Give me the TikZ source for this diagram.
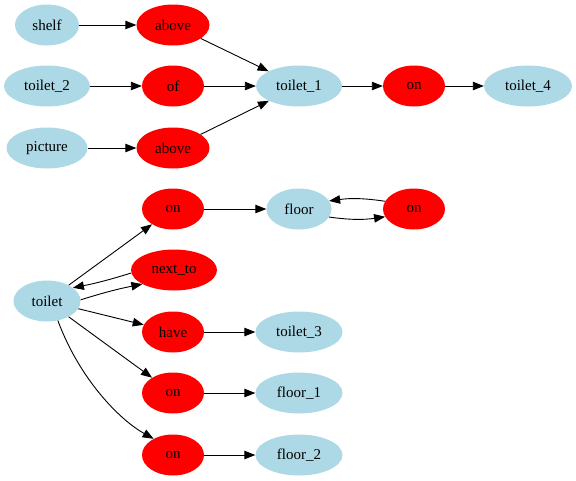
\documentclass[tikz,border=0pt]{standalone}
\usepackage{fontspec}
\setmainfont{Liberation Serif}
\usetikzlibrary{shapes.geometric,arrows.meta}
\definecolor{entity}{HTML}{ADD8E6}
\definecolor{relation}{HTML}{FF0000}
\tikzset{
  base/.style={ellipse, inner sep=0pt, minimum height=41pt,
    font=\fontsize{15}{18}\selectfont},
  ent/.style={base, fill=entity},
  rel/.style={base, fill=relation},
  link/.style={-{Triangle[length=11pt,width=8.5pt]}, line width=0.9pt},
}
\begin{document}
\begin{tikzpicture}[x=1pt,y=-1pt]
\useasboundingbox (0,0) rectangle (576,480);
% upper cluster
\node[ent, minimum width=64pt] (shelf) at (47,25) {shelf};
\node[rel, minimum width=73pt] (above1) at (173,25) {above};
\node[ent, minimum width=86pt] (toilet2) at (47,86) {toilet\_2};
\node[rel, minimum width=62pt] (of) at (173,86) {of};
\node[ent, minimum width=81pt] (picture) at (47,148) {picture};
\node[rel, minimum width=73pt] (above2) at (173,148) {above};
\node[ent, minimum width=86pt] (toilet1) at (299,86) {toilet\_1};
\node[rel, minimum width=62pt] (on1) at (414,86) {on};
\node[ent, minimum width=88pt] (toilet4) at (528,86) {toilet\_4};
% lower cluster
\node[rel, minimum width=62pt] (on2) at (173,209) {on};
\node[ent, minimum width=65pt] (floor) at (299,209) {floor};
\node[rel, minimum width=62pt] (on3) at (414,209) {on};
\node[ent, minimum width=67pt] (toilet) at (47,301) {toilet};
\node[rel, minimum width=86pt] (nextto) at (174,270) {next\_to};
\node[rel, minimum width=62pt] (have) at (173,332) {have};
\node[ent, minimum width=87pt] (toilet3) at (299,332) {toilet\_3};
\node[rel, minimum width=62pt] (on4) at (173,393) {on};
\node[ent, minimum width=87pt] (floor1) at (299,393) {floor\_1};
\node[rel, minimum width=62pt] (on5) at (173,455) {on};
\node[ent, minimum width=87pt] (floor2) at (299,455) {floor\_2};
% connectors
\draw[link] (shelf) -- (above1);
\draw[link] (above1) -- (toilet1);
\draw[link] (toilet2) -- (of);
\draw[link] (of) -- (toilet1);
\draw[link] (picture) -- (above2);
\draw[link] (above2) -- (toilet1);
\draw[link] (toilet1) -- (on1);
\draw[link] (on1) -- (toilet4);
\draw[link] (toilet) -- (on2);
\draw[link] (on2) -- (floor);
\draw[link] (floor.-15) to[bend right=8] (on3.195);
\draw[link] (on3.165) to[bend right=8] (floor.15);
\draw[link] (toilet.2) to[bend left=3] (nextto.204);
\draw[link] (nextto.184) to[bend left=3] (toilet.27);
\draw[link] (toilet) -- (have);
\draw[link] (have) -- (toilet3);
\draw[link] (toilet) -- (on4);
\draw[link] (on4) -- (floor1);
\draw[link] (toilet.-61) .. controls (80,380) and (120,420) .. (on5.140);
\draw[link] (on5) -- (floor2);
\end{tikzpicture}
\end{document}
